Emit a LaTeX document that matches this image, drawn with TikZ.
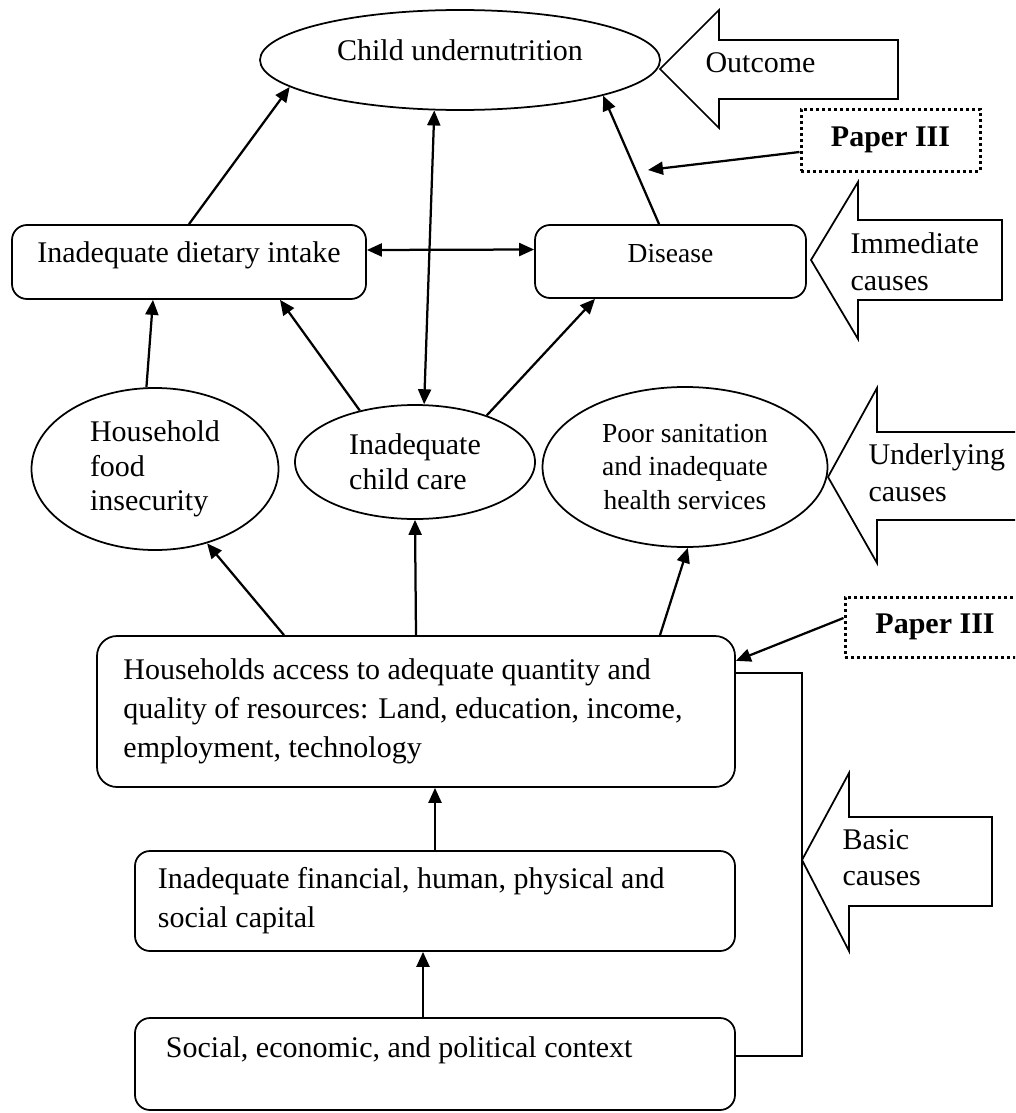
\documentclass[tikz,border=0pt]{standalone}
\usepackage{fontspec}
\setmainfont{Liberation Serif}
\usetikzlibrary{shapes}
\usetikzlibrary{arrows.meta}
\tikzset{
    oval/.style = {ellipse, line width=0.7pt, draw=black, inner sep=0pt, align=flush left},
    cell/.style = {rectangle, rounded corners=6pt, line width=0.7pt, draw=black, inner sep=0pt},
    paper/.style = {rectangle, line width=1.2pt, draw=black, dash pattern=on 1.2pt off 1.2pt, font=\fontsize{12}{14}\selectfont\bfseries},
    tag/.style = {inner sep=0pt, anchor=west, align=flush left, font=\fontsize{12}{14.6}\selectfont},
    bigarrow/.style = {line width=0.7pt, draw=black, line join=miter},
    edgen/.style = {-{Triangle[length=6pt,width=5.2pt]}, line width=0.9pt},
    edged/.style = {{Triangle[length=6pt,width=5.2pt]}-{Triangle[length=6pt,width=5.2pt]}, line width=0.9pt}, % both ways
}
\begin{document}
\begin{tikzpicture}[x=0.4pt, y=-0.4pt, font=\fontsize{12}{14}\selectfont]
\useasboundingbox (0,0) rectangle (1015,1113);
\clip (0,0) rectangle (1015,1113);
% outcome and immediate causes
\node[oval, minimum width=160pt, minimum height=40pt, label={[yshift=4pt]center:Child undernutrition}] at (460,60) (child) {};
\node[cell, minimum width=141.6pt, minimum height=29.6pt, label={[yshift=2.8pt]center:Inadequate dietary intake}] at (189,262) (diet) {};
\node[cell, minimum width=108.4pt, minimum height=29.2pt, label={[yshift=3.2pt, font=\fontsize{11}{13}\selectfont]center:Disease}] at (670.5,261.5) (disease) {};
% underlying causes
\node[oval, minimum width=98.8pt, minimum height=64.8pt, font=\fontsize{12}{13.8}\selectfont] at (155,469) (food) {Household\\food\\insecurity};
\node[oval, minimum width=96pt, minimum height=45.6pt] at (415,462) (care) {Inadequate\\child care};
\node[oval, minimum width=114pt, minimum height=64pt, align=center, font=\fontsize{11}{13.4}\selectfont] at (685,467) (sanit) {Poor sanitation\\and inadequate\\health services};
% basic causes
\node[cell, rounded corners=8pt, minimum width=255.2pt, minimum height=60.4pt, text width=234pt, align=flush left, font=\fontsize{12}{15.6}\selectfont] at (416,711.5) (access) {Households access to adequate quantity and\\quality of resources: Land, education, income,\\employment, technology};
\node[cell, minimum width=240pt, minimum height=40pt, text width=221.6pt, align=flush left, font=\fontsize{12}{15.6}\selectfont] at (435,901) (capital) {Inadequate financial, human, physical and\\social capital};
\node[cell, minimum width=240pt, minimum height=36.8pt, label={[anchor=west, xshift=9.2pt, yshift=5.6pt]west:Social, economic, and political context}] at (435,1064) (context) {};
% papers
\node[paper, minimum width=71.6pt, minimum height=24.8pt] at (890.5,140) (paperA) {Paper III};
\node[paper, minimum width=72pt, minimum height=24pt] at (935,627) (paperB) {Paper III};
\coordinate (hitA) at (648,170);
\coordinate (basictip) at (802,860);
%
\draw[edgen] (diet.north) -- (child.189);
\draw[edged] (child.243) -- (care.81);
\draw[edgen] (disease.107) -- (child.346);
\draw[edged] ([yshift=4.8pt]diet.east) -- ([yshift=4.8pt]disease.west);
\draw[edgen] (food.96) -- ([xshift=-14.4pt]diet.south);
\draw[edgen] (care.137) -- ([xshift=36.4pt]diet.south);
\draw[edgen] (care.33) -- ([xshift=-30.2pt]disease.south);
\draw[edgen] ([xshift=-52.8pt]access.north) -- (food.305);
\draw[edgen] (access.north) -- (care.south);
\draw[edgen] ([xshift=97.6pt]access.north) -- (sanit.272);
\draw[edgen] (capital.north) -- (capital.north |- access.south);
\draw[edgen] ([xshift=-4.8pt]context.north) -- ([xshift=-4.8pt]capital.south);
\draw[edgen] ([yshift=-4.8pt]paperA.west) -- (hitA);
\draw[edgen] ([yshift=3.6pt]paperB.west) -- (access.9.7);
\draw[bigarrow] ([yshift=15.4pt]access.east) -| (basictip) |- ([yshift=3.2pt]context.east);
% big arrows
\draw[bigarrow] (660,69) -- (719,10) -- (719,40) -- (898,40) -- (898,99) -- (719,99) -- (719,128) -- cycle;
\draw[bigarrow] (811,260) -- (858,182) -- (858,220) -- (1002,220) -- (1002,300) -- (858,300) -- (858,339) -- cycle;
\draw[bigarrow] (1030,432) -- (877,432) -- (877,388) -- (828,477) -- (877,563) -- (877,520) -- (1030,520);
\draw[bigarrow] (basictip) -- (849,773) -- (849,817) -- (992,817) -- (992,906) -- (849,906) -- (849,951) -- cycle;
\node[tag] at (705,63) (outlbl) {Outcome};
\node[tag] at (850,261.5) (immlbl) {Immediate\\causes};
\node[tag] at (868,472.5) (undlbl) {Underlying\\causes};
\node[tag] at (842,857.5) (baslbl) {Basic\\causes};
\end{tikzpicture}
\end{document}
